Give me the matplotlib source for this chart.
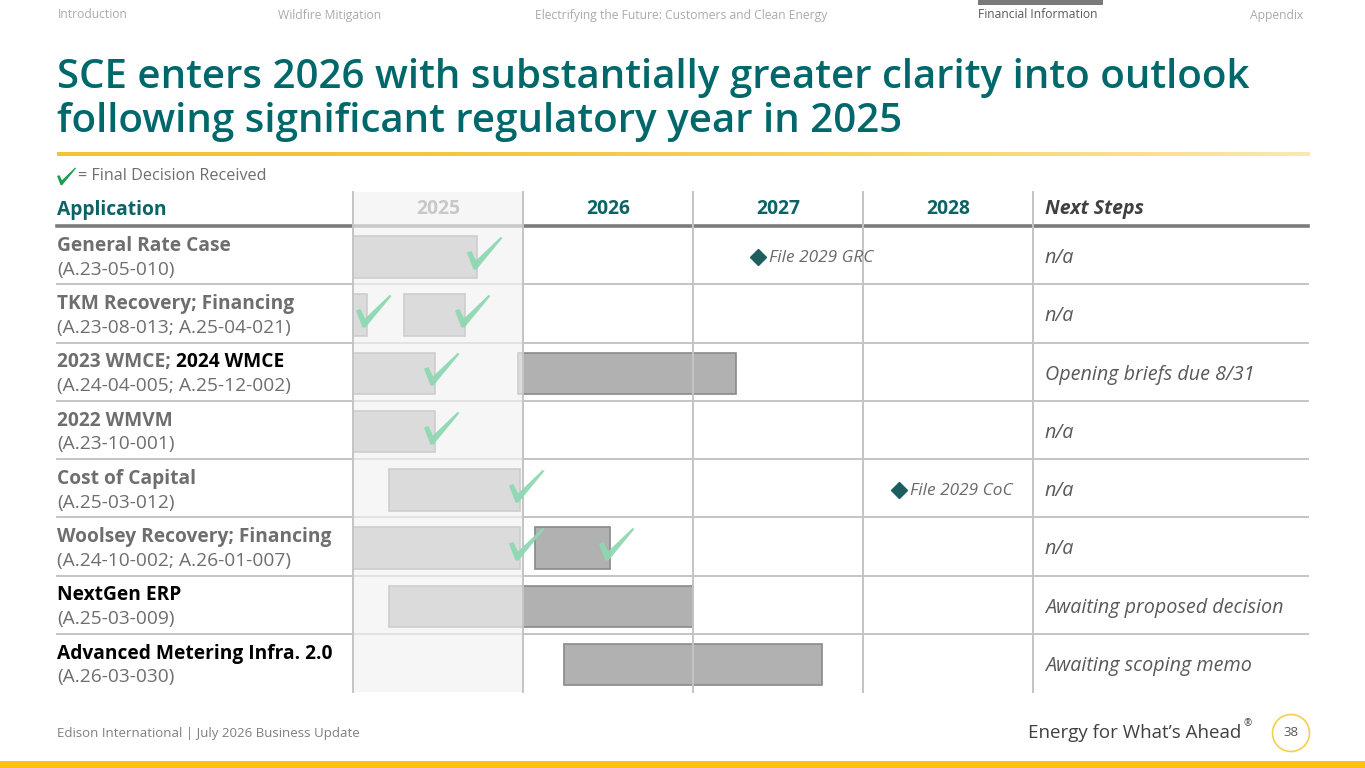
import numpy as np
import matplotlib
matplotlib.use("Agg")
import matplotlib.pyplot as plt
from matplotlib.path import Path
from matplotlib.patches import Rectangle, Circle
from matplotlib.transforms import blended_transform_factory

plt.rcParams['font.family'] = ['Open Sans', 'DejaVu Sans']

# ---------------- data ----------------
years = [2025, 2026, 2027, 2028]
row_titles = ["General Rate Case", "TKM Recovery; Financing", "2023 WMCE; ",
              "2022 WMVM", "Cost of Capital", "Woolsey Recovery; Financing",
              "NextGen ERP", "Advanced Metering Infra. 2.0"]
row_title_dark = [False, False, False, False, False, False, True, True]
row_dockets = ["(A.23-05-010)", "(A.23-08-013; A.25-04-021)", "(A.24-04-005; A.25-12-002)",
               "(A.23-10-001)", "(A.25-03-012)", "(A.24-10-002; A.26-01-007)",
               "(A.25-03-009)", "(A.26-03-030)"]
next_steps = ["n/a", "n/a", "Opening briefs due 8/31", "n/a", "n/a", "n/a",
              "Awaiting proposed decision", "Awaiting scoping memo"]

bar_rows = [0, 1, 1, 2, 2, 3, 4, 5, 5, 6, 7]
bar_start = [2025.00, 2025.00, 2025.30, 2025.00, 2025.97, 2025.00, 2025.21, 2025.00, 2026.07, 2025.21, 2026.24]
bar_end = [2025.73, 2025.08, 2025.66, 2025.48, 2027.25, 2025.48, 2025.98, 2025.98, 2026.51, 2027.00, 2027.76]
bar_decided = [True, True, True, True, False, True, True, True, True, False, False]

milestone_rows = [0, 4]
milestone_x = [2027.38, 2028.21]
milestone_labels = ["File 2029 GRC", "File 2029 CoC"]

nav_items = ["Introduction", "Wildfire Mitigation",
             "Electrifying the Future: Customers and Clean Energy",
             "Financial Information", "Appendix"]
nav_x = [58, 278, 535, 978, 1250]
nav_active = 3

TEAL = "#0b6366"
GRAY_TXT = "#6e6e6e"
W, H = 1365, 768

fig = plt.figure(figsize=(W / 100, H / 100), dpi=100)
fig.patch.set_facecolor("white")

# background axes in pixel coordinates
bg = fig.add_axes([0, 0, 1, 1])
bg.set_xlim(0, W)
bg.set_ylim(H, 0)
bg.axis("off")

# ---- nav ----
for i, (t, x) in enumerate(zip(nav_items, nav_x)):
    bg.text(x, 15, t, fontsize=8.7, color="#595959" if i == nav_active else "#ababab",
            va="center", ha="left")
bg.add_patch(Rectangle((978, 0), 125, 5, color="#7a7a7a", lw=0))

# ---- title ----
bg.text(57, 88, "SCE enters 2026 with substantially greater clarity into outlook",
        fontsize=29, color="#00676b", fontweight="semibold", va="baseline")
bg.text(57, 132, "following significant regulatory year in 2025",
        fontsize=29, color="#00676b", fontweight="semibold", va="baseline")

# gradient rule
grad = np.linspace(0, 1, 256)[None, :]
c0 = np.array(matplotlib.colors.to_rgb("#f5c232"))
c1 = np.array(matplotlib.colors.to_rgb("#fbeab0"))
gimg = c0[None, None, :] * (1 - grad[..., None] ** 2) + c1[None, None, :] * grad[..., None] ** 2
bg.imshow(gimg, extent=[57, 1310, 156, 152], aspect="auto", zorder=1)
bg.set_xlim(0, W)
bg.set_ylim(H, 0)

# check marker path
chk_verts = np.array([(-17.5, 1.0), (-13.0, 2.5), (-8.5, -7.0), (16.0, 16.5), (18.0, 15.5),
                      (-8.0, -16.0), (-11.0, -16.0), (-17.5, 1.0)])
chk_codes = [Path.MOVETO] + [Path.LINETO] * 6 + [Path.CLOSEPOLY]
CHECK = Path(chk_verts, chk_codes)

# legend
bg.plot([66], [175.5], marker=CHECK, markersize=14, color="#1a9e4f", mec="none")
bg.text(78, 175.5, "= Final Decision Received", fontsize=11.6, color=GRAY_TXT, va="center")

# ---- gantt axes ----
x0, x1 = 353, 1033
ytop, yhead, ybot = 192, 226, 692
nrows = len(row_titles)
rowh = (ybot - yhead) / nrows
head_rows = (yhead - ytop) / rowh
ax = fig.add_axes([x0 / W, 1 - ybot / H, (x1 - x0) / W, (ybot - ytop) / H])
ax.set_xlim(years[0], years[-1] + 1)
ax.set_ylim(nrows - 0.5, -0.5 - head_rows)
ax.axis("off")
ax.patch.set_alpha(0)

trans_left = blended_transform_factory(bg.transData, ax.transData)

# horizontal lines
xmin_f = (57 - x0) / (x1 - x0)
xmax_f = (1308 - x0) / (x1 - x0)
ax.axhline(-0.5, xmin=xmin_f, xmax=xmax_f, color="#7b7b7b", lw=2.6, clip_on=False, zorder=1)
for r in range(nrows - 1):
    ax.axhline(r + 0.5, xmin=xmin_f, xmax=xmax_f, color="#c4c4c4", lw=1.4, clip_on=False, zorder=1)

# bars
for r, s, e in zip(bar_rows, bar_start, bar_end):
    ax.barh(r + 0.03, e - s, left=s, height=0.71, color="#b1b1b1", edgecolor="#8a8a8a",
            lw=1.2, zorder=2)

# 2025 overlay (completed year)
ax.add_patch(Rectangle((years[0], -0.5 - head_rows), 1, nrows + head_rows,
                       facecolor="#f2f2f2", alpha=0.65, lw=0, zorder=3))

# vertical lines
for xv in years + [years[-1] + 1]:
    ax.axvline(xv, color="#c4c4c4", lw=1.4, zorder=4, clip_on=False)

# check marks
for r, e, d in zip(bar_rows, bar_end, bar_decided):
    if d:
        ax.plot([e + 0.038], [r - 0.04], marker=CHECK, markersize=26, color="#8fd8b3",
                mec="none", alpha=0.95, zorder=5, clip_on=False)

# milestones
for r, xm, lab in zip(milestone_rows, milestone_x, milestone_labels):
    ax.plot([xm], [r + 0.03], marker="D", markersize=8, color="#1d5f60", zorder=5)
    ax.text(xm + 0.065, r + 0.05, lab, fontsize=12.4, style="italic", color="#6a6a6a",
            va="center", ha="left", zorder=5)

# header
head_y = -0.5 - head_rows / 2
bg.text(57, 210, "Application", fontsize=13.9, fontweight="bold", color=TEAL, va="center")
for i, yv in enumerate(years):
    ax.text(yv + 0.5, head_y, str(yv), fontsize=13.9, fontweight="bold",
            color="#c8c8c8" if i == 0 else TEAL, ha="center", va="center", zorder=6)
ax.text(years[-1] + 1 + 0.07, head_y, "Next Steps", fontsize=14, fontweight="bold",
        style="italic", color="#404040", ha="left", va="center")

# row labels
for r in range(nrows):
    t = ax.text(57, r - 0.16, row_titles[r], transform=trans_left, fontsize=13.8,
                fontweight="bold", color="black" if row_title_dark[r] else GRAY_TXT,
                va="center", ha="left")
    if r == 2:
        ax.annotate("2024 WMCE", xycoords=t, xy=(1, 0.5), va="center", ha="left",
                    fontsize=13.8, fontweight="bold", color="black")
    ax.text(57, r + 0.25, row_dockets[r], transform=trans_left, fontsize=13.8,
            color=GRAY_TXT, va="center", ha="left")
    ax.text(years[-1] + 1 + 0.07, r + 0.05, next_steps[r], fontsize=14.2, style="italic",
            color="#595959", va="center", ha="left")

# ---- footer ----
bg.text(57, 733, "Edison International | July 2026 Business Update", fontsize=9.5,
        color="#7f7f7f", va="center")
bg.text(1241, 733, "Energy for What\u2019s Ahead", fontsize=13.5, color="#404040",
        va="center", ha="right")
bg.text(1243, 724, "\u00ae", fontsize=7, color="#404040", va="center", ha="left")
bg.add_patch(Circle((1291, 733), 18.5, fill=False, edgecolor="#f3cf4f", lw=1.2))
bg.text(1291, 733, "38", fontsize=9.5, color="#595959", va="center", ha="center")
bg.add_patch(Rectangle((0, 761), W, 7, color="#ffc20e", lw=0))

fig.savefig("out.png", dpi=100, facecolor="white")
